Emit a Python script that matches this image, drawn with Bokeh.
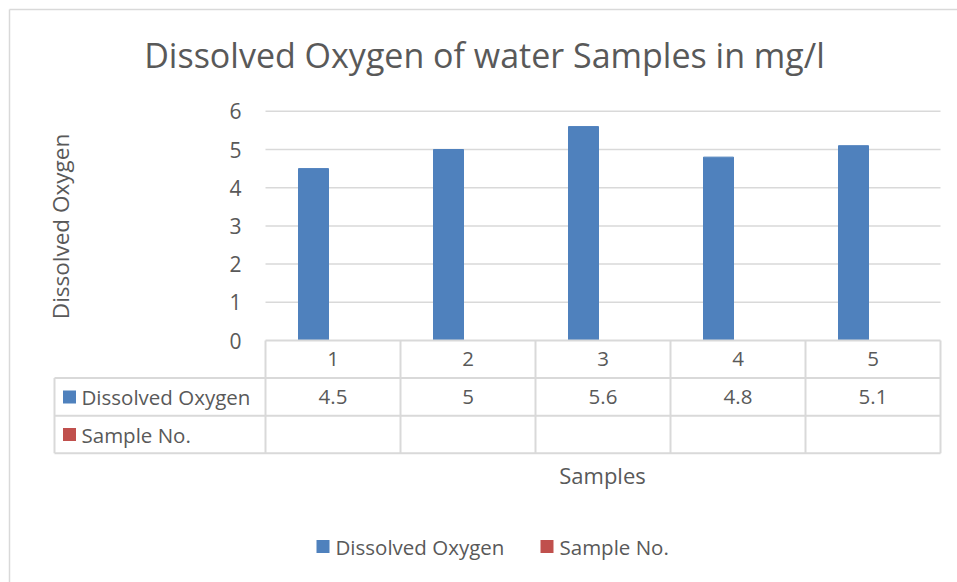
import math
from bokeh.plotting import figure
from bokeh.models import Range1d, ColumnDataSource
from bokeh.core.properties import value
from bokeh.embed import file_html
from bokeh.resources import INLINE

# ---- data ----
samples = ["1", "2", "3", "4", "5"]
dissolved_oxygen = [4.5, 5, 5.6, 4.8, 5.1]
sample_no = [None, None, None, None, None]
y_ticks = [0, 1, 2, 3, 4, 5, 6]
series_names = ["Dissolved Oxygen", "Sample No."]
series_colors = ["#4f81bd", "#c0504d"]
title_text = "Dissolved Oxygen of water Samples in mg/l"
y_label = "Dissolved Oxygen"
x_label = "Samples"

# ---- layout (page pixels) ----
W, H = 957, 582
PAGE_X0, PAGE_Y0 = 0, 0
COL_LEFT, COL_W = 265.0, 135.0      # first category column left edge, column width
ZERO_Y, UNIT_PX = 340.0, 38.2        # y of value 0, pixels per unit
FONT = value("Open Sans")
TXT = "#595959"
GRID = "#d9d9d9"


def px_x(px):
    return 0.5 + (px - COL_LEFT) / COL_W


def px_y(py):
    return (ZERO_Y - py) / UNIT_PX


p = figure(width=W, height=H, output_backend="svg", toolbar_location=None,
           x_range=Range1d(px_x(PAGE_X0), px_x(PAGE_X0 + W)),
           y_range=Range1d(px_y(PAGE_Y0 + H), px_y(PAGE_Y0)),
           min_border=0)
p.axis.visible = False
p.grid.visible = False
p.outline_line_color = None
p.background_fill_color = "white"
p.border_fill_color = "white"

n = len(samples)
xs = [i + 1 for i in range(n)]

# chart border (left and top)
p.segment(x0=[px_x(9), px_x(9)], y0=[px_y(9), px_y(9)],
          x1=[px_x(9), px_x(970)], y1=[px_y(600), px_y(9)],
          line_color=GRID, line_width=1.5)

# gridlines
grid_vals = [t for t in y_ticks if t > 0]
p.segment(x0=[0.5] * len(grid_vals), y0=grid_vals,
          x1=[n + 0.5] * len(grid_vals), y1=grid_vals,
          line_color=GRID, line_width=1.5)

# y tick labels
p.text(x=[px_x(241)] * len(y_ticks), y=y_ticks, text=[str(t) for t in y_ticks],
       text_align="right", text_baseline="middle", text_font=FONT,
       text_font_size="21px", text_color=TXT)

# bars (clustered: DO left, Sample No. right)
bar_w = 30.0 / COL_W
dodge = -19.5 / COL_W
src = ColumnDataSource(dict(x=[v + dodge for v in xs], top=dissolved_oxygen))
p.vbar(x="x", top="top", bottom=0, width=bar_w, source=src,
       fill_color=series_colors[0], line_color=series_colors[0])

# ---- data table ----
row_h = 37.6 / UNIT_PX
y_r0 = 0.0
y_r1 = y_r0 - row_h
y_r2 = y_r1 - row_h
y_r3 = y_r2 - row_h
left_tab = px_x(54)
# horizontal lines
p.segment(x0=[0.5, left_tab, left_tab, left_tab], y0=[y_r0, y_r1, y_r2, y_r3],
          x1=[n + 0.5] * 4, y1=[y_r0, y_r1, y_r2, y_r3],
          line_color=GRID, line_width=2)
# vertical lines
vx = [i + 0.5 for i in range(n + 1)]
p.segment(x0=vx, y0=[y_r0] * len(vx), x1=vx, y1=[y_r3] * len(vx),
          line_color=GRID, line_width=2)
p.segment(x0=[left_tab], y0=[y_r1], x1=[left_tab], y1=[y_r3],
          line_color=GRID, line_width=2)

TFS = "20.5px"
# category labels
p.text(x=xs, y=[(y_r0 + y_r1) / 2] * n, text=samples, text_align="center",
       text_baseline="middle", text_font=FONT, text_font_size=TFS, text_color=TXT)
# values
p.text(x=xs, y=[(y_r1 + y_r2) / 2] * n, text=[str(v) for v in dissolved_oxygen],
       text_align="center", text_baseline="middle", text_font=FONT,
       text_font_size=TFS, text_color=TXT)
p.text(x=xs, y=[(y_r2 + y_r3) / 2] * n, text=["" if v is None else str(v) for v in sample_no],
       text_align="center", text_baseline="middle", text_font=FONT,
       text_font_size=TFS, text_color=TXT)

# row legend keys
key_w = 13.0 / COL_W
key_h = 13.0 / UNIT_PX
row_centers = [(y_r1 + y_r2) / 2, (y_r2 + y_r3) / 2]
p.rect(x=[px_x(69)] * 2, y=row_centers, width=key_w, height=key_h,
       fill_color=series_colors, line_color=None)
p.text(x=[px_x(81)] * 2, y=row_centers, text=series_names, text_align="left",
       text_baseline="middle", text_font=FONT, text_font_size=TFS, text_color=TXT)

# title
p.text(x=[px_x(484)], y=[px_y(54)], text=[title_text], text_align="center",
       text_baseline="middle", text_font=FONT, text_font_size="34px", text_color=TXT)

# axis titles
p.text(x=[px_x(60)], y=[px_y(226)], text=[y_label], angle=math.pi / 2,
       text_align="center", text_baseline="middle", text_font=FONT,
       text_font_size="22.5px", text_color=TXT)
p.text(x=[px_x(602)], y=[px_y(474)], text=[x_label], text_align="center",
       text_baseline="middle", text_font=FONT, text_font_size="22px", text_color=TXT)

# bottom legend
leg_y = px_y(546)
p.rect(x=[px_x(322.5), px_x(546.5)], y=[leg_y] * 2, width=key_w, height=key_h,
       fill_color=series_colors, line_color=None)
p.text(x=[px_x(335), px_x(559)], y=[leg_y] * 2, text=series_names, text_align="left",
       text_baseline="middle", text_font=FONT, text_font_size=TFS, text_color=TXT)

open("out.html", "w").write(file_html(p, INLINE))
